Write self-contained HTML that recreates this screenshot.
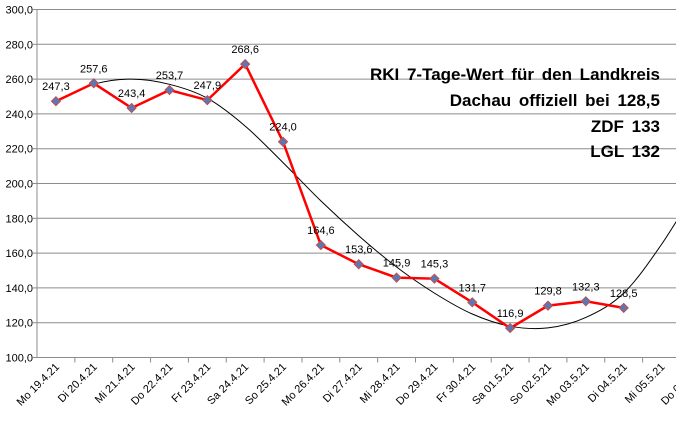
<!DOCTYPE html>
<html><head><meta charset="utf-8"><style>
body{margin:0;background:#fff}
svg{display:block;font-family:"Liberation Sans",Arial,sans-serif}
</style></head><body>
<svg id="c" width="676" height="422">
<g id="grid"></g><g id="trend"></g><g id="series"></g><g id="labels"></g><g id="axes"></g>
<g font-weight="bold" font-size="17" text-anchor="end" fill="#000" word-spacing="3">
<text x="660" y="80">RKI  7-Tage-Wert  für den Landkreis</text>
<text x="660" y="106">Dachau offiziell bei 128,5</text>
<text x="660" y="132">ZDF 133</text>
<text x="660" y="157">LGL 132</text>
</g>
</svg>
<script>
const categories=["Mo 19.4.21","Di 20.4.21","Mi 21.4.21","Do 22.4.21","Fr 23.4.21","Sa 24.4.21","So 25.4.21","Mo 26.4.21","Di 27.4.21","Mi 28.4.21","Do 29.4.21","Fr 30.4.21","Sa 01.5.21","So 02.5.21","Mo 03.5.21","Di 04.5.21","Mi 05.5.21","Do 06.5.21"];
const values=[247.3,257.6,243.4,253.7,247.9,268.6,224.0,164.6,153.6,145.9,145.3,131.7,116.9,129.8,132.3,128.5];
const trendValues=[247,257,260,257,249,233,212,190,170,152,137,125,118,117,123,137,165,200];
const yTicks=[100,120,140,160,180,200,220,240,260,280,300];
const NS="http://www.w3.org/2000/svg";
const x0=37,step=37.85,yTop=9.5,yBot=357.5;
const X=i=>x0+step*(i+0.5);
const Y=v=>yBot-(v-100)/200*(yBot-yTop);
const fmt=v=>v.toFixed(1).replace('.',',');
function mk(t,a,p){const e=document.createElementNS(NS,t);for(const k in a)e.setAttribute(k,a[k]);p.appendChild(e);return e;}
const grid=document.getElementById('grid'),axes=document.getElementById('axes');
yTicks.forEach(v=>{
 const l=mk('line',{x1:x0,x2:676,y1:Y(v),y2:Y(v),stroke:'#8c8c8c','stroke-width':1},grid);
 
 
 const t=mk('text',{x:33,y:Y(v)+4,'text-anchor':'end','font-size':11,fill:'#000'},axes);
 t.textContent=fmt(v);
 
 
 mk('line',{x1:x0-4,x2:x0,y1:Y(v),y2:Y(v),stroke:'#8c8c8c'},axes);
});
const ya=mk('line',{x1:x0,x2:x0,y1:yTop,y2:yBot,stroke:'#8c8c8c'},axes);


categories.forEach((c,i)=>{
 mk('line',{x1:x0+step*(i+1),x2:x0+step*(i+1),y1:yBot,y2:yBot+5,stroke:'#8c8c8c'},axes);
 const cx=X(i)+4,cy=yBot+10;
 const t=mk('text',{x:cx,y:cy,'text-anchor':'end','font-size':11,fill:'#000',transform:`rotate(-45 ${cx} ${cy})`},axes);
 t.textContent=c;
 
 
});
let d='';const pts=trendValues.map((v,i)=>[X(i),Y(v)]);
d='M'+pts[0][0]+','+pts[0][1];
for(let i=0;i<pts.length-1;i++){const p0=pts[Math.max(0,i-1)],p1=pts[i],p2=pts[i+1],p3=pts[Math.min(pts.length-1,i+2)];
 d+=` C${p1[0]+(p2[0]-p0[0])/6},${p1[1]+(p2[1]-p0[1])/6} ${p2[0]-(p3[0]-p1[0])/6},${p2[1]-(p3[1]-p1[1])/6} ${p2[0]},${p2[1]}`;}
const tr=mk('path',{d:d,fill:'none',stroke:'#000','stroke-width':1},document.getElementById('trend'));


const sg=document.getElementById('series'),lg=document.getElementById('labels');
const ln=mk('polyline',{points:values.map((v,i)=>X(i)+','+Y(v)).join(' '),fill:'none',stroke:'#ff0000','stroke-width':2.5},sg);


values.forEach((v,i)=>{
 const x=X(i),y=Y(v);
 const m=mk('polygon',{points:`${x},${y-4.5} ${x+4.5},${y} ${x},${y+4.5} ${x-4.5},${y}`,fill:'#5b77b6',stroke:'#c0504d','stroke-width':1},sg);
 
 
 const t=mk('text',{x:x,y:y-11,'text-anchor':'middle','font-size':11,fill:'#000'},lg);
 t.textContent=fmt(v);
 
 
});
</script>
</body></html>
